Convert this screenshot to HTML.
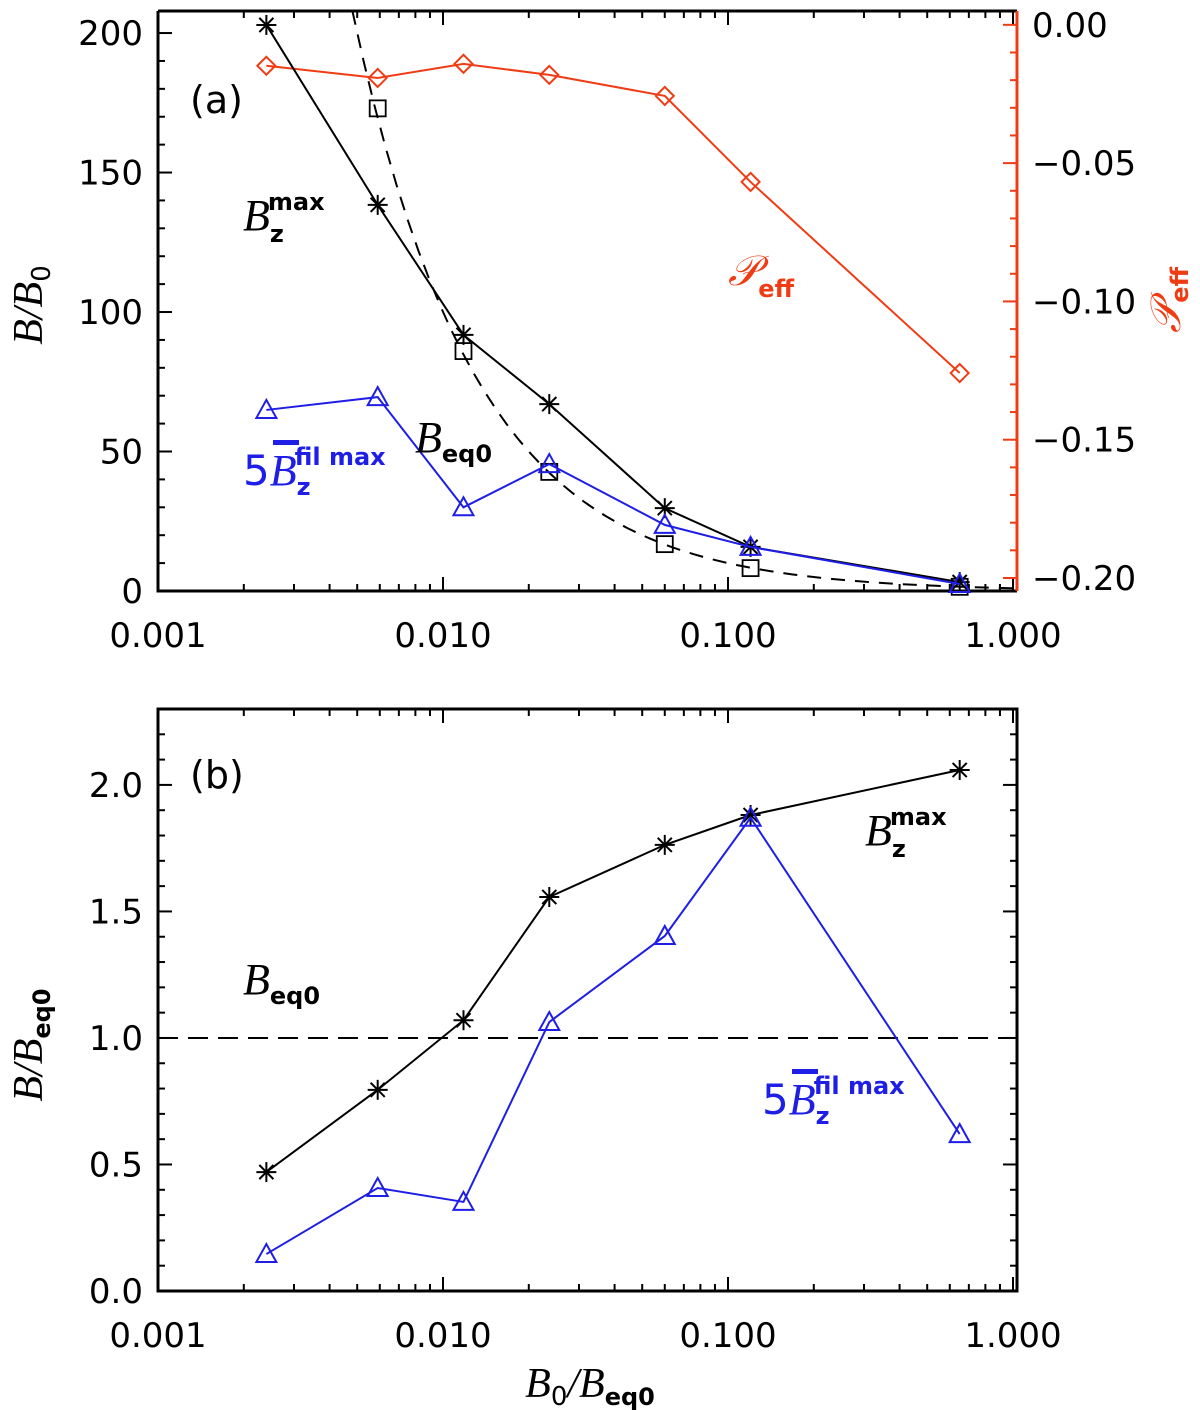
<!DOCTYPE html>
<html><head><meta charset="utf-8"><style>
body{margin:0;background:#fff;}
svg{display:block;}
text{font-family:"DejaVu Sans","Liberation Sans",sans-serif;}
.tl{font-size:34px;fill:#000;}
.it{font-family:"Liberation Serif",serif;font-style:italic;}
.bd{font-family:"DejaVu Sans","Liberation Sans",sans-serif;font-weight:bold;}
</style></head><body>
<svg id="chart" width="1200" height="1410" viewBox="0 0 1200 1410" xmlns="http://www.w3.org/2000/svg">
<g id="layer"></g>
<text x="190" y="113" font-size="38">(a)</text>
<text x="243" y="230"><tspan class="it" font-size="44">B</tspan><tspan class="bd" font-size="24" dy="12">z</tspan><tspan class="bd" font-size="24" dx="-16" dy="-32">max</tspan></text>
<text x="728" y="285" fill="#f03c14"><tspan class="it" font-size="42">𝒫</tspan><tspan class="bd" font-size="24" dy="12">eff</tspan></text>
<text x="415" y="452"><tspan class="it" font-size="44">B</tspan><tspan class="bd" font-size="24" dy="10">eq0</tspan></text>
<g fill="#1e1ee6">
<rect x="273" y="440" width="26" height="5"/>
<text x="243" y="485"><tspan font-size="42">5</tspan><tspan class="it" font-size="44">B</tspan><tspan class="bd" font-size="24" dy="10">z</tspan><tspan class="bd" font-size="24" dx="-16" dy="-30">fil max</tspan></text>
</g>
<text x="190" y="788" font-size="38">(b)</text>
<text x="865" y="845"><tspan class="it" font-size="44">B</tspan><tspan class="bd" font-size="24" dy="12">z</tspan><tspan class="bd" font-size="24" dx="-16" dy="-32">max</tspan></text>
<text x="243" y="994"><tspan class="it" font-size="44">B</tspan><tspan class="bd" font-size="24" dy="10">eq0</tspan></text>
<g fill="#1e1ee6">
<rect x="792" y="1069" width="26" height="5"/>
<text x="762" y="1114"><tspan font-size="42">5</tspan><tspan class="it" font-size="44">B</tspan><tspan class="bd" font-size="24" dy="10">z</tspan><tspan class="bd" font-size="24" dx="-16" dy="-30">fil max</tspan></text>
</g>
<text transform="translate(42,305) rotate(-90)" text-anchor="middle"><tspan class="it" font-size="42">B/B</tspan><tspan font-size="26" dy="8">0</tspan></text>
<text transform="translate(1180,300) rotate(-90)" text-anchor="middle" fill="#f03c14"><tspan class="it" font-size="42">𝒫</tspan><tspan class="bd" font-size="24" dy="8">eff</tspan></text>
<text transform="translate(42,1045) rotate(-90)" text-anchor="middle"><tspan class="it" font-size="42">B/B</tspan><tspan class="bd" font-size="24" dy="8">eq0</tspan></text>
<text x="590" y="1397" text-anchor="middle"><tspan class="it" font-size="42">B</tspan><tspan font-size="26" dy="8">0</tspan><tspan class="it" font-size="42" dy="-8">/B</tspan><tspan class="bd" font-size="24" dy="8">eq0</tspan></text>
</svg>
<script>
const xs = [0.0024, 0.0059, 0.0118, 0.0236, 0.060, 0.120, 0.65];
const aBzmax = [202.9, 138.4, 91.8, 67.0, 29.7, 15.8, 3.2];
const aSquares = [173, 86, 42.7, 16.8, 8.2, 1.5];
const aBfil = [64.9, 69.5, 30.0, 45.5, 23.7, 15.8, 2.5];
const aPeff = [-0.0148, -0.0192, -0.0141, -0.0181, -0.0257, -0.0568, -0.1259];
const bBzmax = [0.47, 0.795, 1.07, 1.557, 1.763, 1.881, 2.059];
const bBfil = [0.146, 0.407, 0.352, 1.063, 1.403, 1.87, 0.62];
const beqLevel = 1.0;
const xTicks = ["0.001","0.010","0.100","1.000"];
const aLeftTicks = ["0","50","100","150","200"];
const aRightTicks = ["0.00","-0.05","-0.10","-0.15","-0.20"];
const bTicks = ["0.0","0.5","1.0","1.5","2.0"];

const NS="http://www.w3.org/2000/svg";
const L=158,R=1017;
const A={top:11,bot:591,ymin:0,ymax:207.9,rmin:-0.2047,rmax:0.005};
const B={top:709,bot:1291,ymin:0,ymax:2.3};
const RED="#f03c14",BLUE="#1e1ee6";
const layer=document.getElementById('layer');
function X(v){return L+Math.log10(v/0.001)*285;}
function YA(v){return A.bot-(v-A.ymin)/(A.ymax-A.ymin)*(A.bot-A.top);}
function YR(v){return A.bot-(v-A.rmin)/(A.rmax-A.rmin)*(A.bot-A.top);}
function YB(v){return B.bot-(v-B.ymin)/(B.ymax-B.ymin)*(B.bot-B.top);}
function mk(tag,at){const e=document.createElementNS(NS,tag);for(const k in at)e.setAttribute(k,at[k]);layer.appendChild(e);return e;}
function line(x1,y1,x2,y2,c,w){return mk('line',{x1,y1,x2,y2,stroke:c||'#000','stroke-width':w||2});}
function txt(x,y,s,anchor,c){const t=mk('text',{x,y,'text-anchor':anchor,'class':'tl',fill:c||'#000'});t.textContent=s;return t;}

function xAxis(top,bot,pref){
  for(let d=0;d<3;d++)for(let m=1;m<=9;m++){
    const v=0.001*Math.pow(10,d)*m;const x=X(v);const len=m==1?14:7;
    const t1=line(x,bot,x,bot-len);
    
    
    const t2=line(x,top,x,top+len);
    
    
  }
  const xe=X(1);line(xe,bot,xe,bot-14);line(xe,top,xe,top+14);
  xTicks.forEach((s,i)=>{const t=txt(X(0.001*Math.pow(10,i)),bot+56,s,'middle');
    
    });
}
function yTicks(yf,vmin,vmax,major,minor,x,dir,labels,c,lx,anchor,pref){
  const n=Math.round((vmax-vmin)/minor);
  for(let i=0;i<=n;i++){const v=vmin+i*minor;const y=yf(v);
    const isM=Math.abs(Math.round(v/major)*major-v)<1e-9;
    const t=line(x,y,x+dir*(isM?14:7),y,c);
    
    }
  if(labels)labels.forEach((s,i)=>{const v=parseFloat(s);const t=txt(lx,yf(v)+12,s.replace('-','\u2212'),anchor,c);
    
    });
}
function poly(xv,yv,yf,c,dash,name){
  const p=xv.map((x,i)=>X(x)+','+yf(yv[i])).join(' ');
  const e=mk('polyline',{points:p,fill:'none',stroke:c,'stroke-width':2});
  if(dash)e.setAttribute('stroke-dasharray',dash);
  
  
}
function star(x,y,c,name){const g=mk('g',{stroke:c,'stroke-width':2});
  
  
  for(let k=0;k<4;k++){const a=k*Math.PI/4;const dx=10*Math.cos(a),dy=10*Math.sin(a);
    const l=document.createElementNS(NS,'line');l.setAttribute('x1',x-dx);l.setAttribute('y1',y-dy);l.setAttribute('x2',x+dx);l.setAttribute('y2',y+dy);g.appendChild(l);}}
function tri(x,y,c,name){const e=mk('polygon',{points:`${x-10},${y+8} ${x+10},${y+8} ${x},${y-10}`,fill:'none',stroke:c,'stroke-width':2});
  
  }
function diamond(x,y,c,name){const e=mk('polygon',{points:`${x-9},${y} ${x},${y-9} ${x+9},${y} ${x},${y+9}`,fill:'none',stroke:c,'stroke-width':2});
  
  }
function square(x,y,name){const e=mk('rect',{x:x-8,y:y-8,width:16,height:16,fill:'none',stroke:'#000','stroke-width':1.8});
  
  }

xAxis(A.top,A.bot,'a');
yTicks(YA,0,200,50,10,L,1,aLeftTicks,'#000',L-15,'end','a-left-y');
yTicks(YR,-0.20,0.0,0.05,0.01,R,-1,aRightTicks,RED,R+15,'start','a-right-y');
const fa=mk('path',{d:`M${L},${A.top}V${A.bot}H${R}M${L},${A.top}H${R}`,fill:'none',stroke:'#000','stroke-width':3});


const ra=line(R,A.top,R,A.bot,RED,3);


const cx=[];const cy=[];
for(let i=0;i<=60;i++){const v=Math.pow(10,Math.log10(1/A.ymax)+i*(0-Math.log10(1/A.ymax))/60);cx.push(v);cy.push(1/v);}
poly(cx,cy,YA,'#000','14,10','beq0-dashed-curve');
poly(xs,aPeff,YR,RED,null,'peff-line');
aPeff.forEach((v,i)=>diamond(X(xs[i]),YR(v),RED,'peff-point'));
poly(xs,aBzmax,YA,'#000',null,'bzmax-line-a');
aBzmax.forEach((v,i)=>star(X(xs[i]),YA(v),'#000','bzmax-point-a'));
aSquares.forEach((v,i)=>square(X(xs[i+1]),YA(v),'beq0-square'));
poly(xs,aBfil,YA,BLUE,null,'bfil-line-a');
aBfil.forEach((v,i)=>tri(X(xs[i]),YA(v),BLUE,'bfil-point-a'));

xAxis(B.top,B.bot,'b');
yTicks(YB,0,2.3,0.5,0.1,L,1,bTicks,'#000',L-15,'end','b-left-y');
yTicks(YB,0,2.3,0.5,0.1,R,-1,null,'#000',0,'start','b-right-y');
const fb=mk('rect',{x:L,y:B.top,width:R-L,height:B.bot-B.top,fill:'none',stroke:'#000','stroke-width':3});


const dl=line(L,YB(beqLevel),R,YB(beqLevel),'#000',2);
dl.setAttribute('stroke-dasharray','20,10');


poly(xs,bBzmax,YB,'#000',null,'bzmax-line-b');
bBzmax.forEach((v,i)=>star(X(xs[i]),YB(v),'#000','bzmax-point-b'));
poly(xs,bBfil,YB,BLUE,null,'bfil-line-b');
bBfil.forEach((v,i)=>tri(X(xs[i]),YB(v),BLUE,'bfil-point-b'));
</script>
</body></html>
